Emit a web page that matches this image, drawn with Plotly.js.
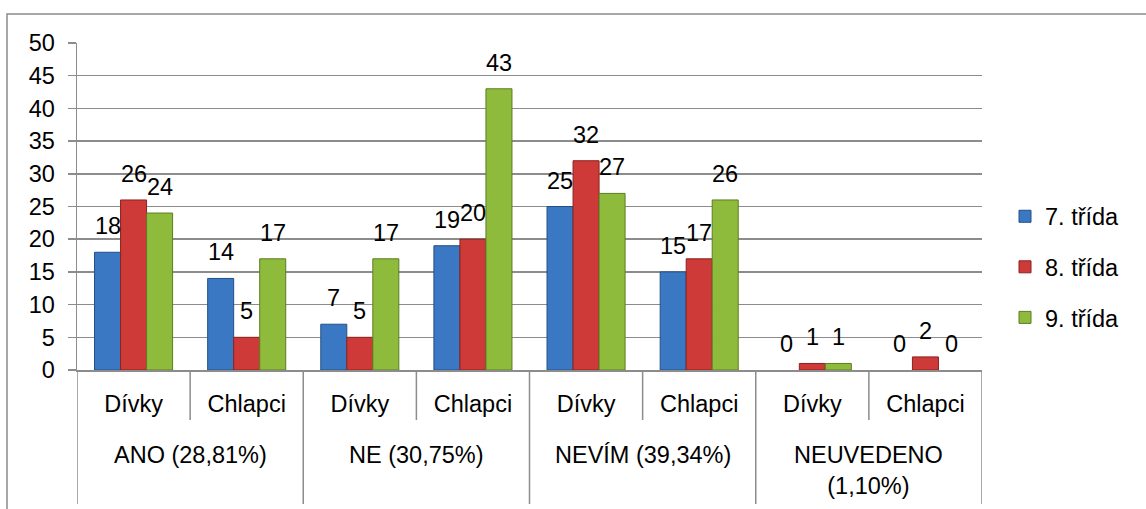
<!DOCTYPE html>
<html>
<head>
<meta charset="utf-8">
<script src="https://cdn.plot.ly/plotly-3.0.1.min.js"></script>
<style>html,body{margin:0;padding:0;background:#fff;}#chart{width:1146px;height:509px;}</style>
</head>
<body>
<div id="chart"></div>
<script>
// ---- data ----
const groups = ["ANO (28,81%)", "NE (30,75%)", "NEVÍM (39,34%)", "NEUVEDENO<br>(1,10%)"];
const subcats = ["Dívky", "Chlapci", "Dívky", "Chlapci", "Dívky", "Chlapci", "Dívky", "Chlapci"];
const seriesNames = ["7. třída", "8. třída", "9. třída"];
const trida7 = [18, 14, 7, 19, 25, 15, 0, 0];
const trida8 = [26, 5, 5, 20, 32, 17, 1, 2];
const trida9 = [24, 17, 17, 43, 27, 26, 1, 0];
const yTicks = [0, 5, 10, 15, 20, 25, 30, 35, 40, 45, 50];

// ---- styling ----
const FONT = "Liberation Sans, Arial, sans-serif";
const FS = 23.5;
const fills = ["#3b78c4", "#cd3a37", "#8fbb3c"];
const edges = ["#234f86", "#8a2320", "#5d7c22"];
const grid = "#8c8c8c";
const bargap = 0.31;
const bw = (1 - bargap) / 3;

const series = [trida7, trida8, trida9];
const xIdx = subcats.map((_, i) => i);

const traces = series.map((vals, k) => ({
  type: "bar",
  name: seriesNames[k],
  legendgroup: "g" + k,
  x: xIdx,
  y: vals,
  marker: {color: fills[k], line: {color: edges[k], width: vals.map(v => v ? 1 : 0)}},
  hoverinfo: "skip"
}));

const annotations = [];
// data labels
series.forEach((vals, k) => {
  vals.forEach((v, i) => {
    annotations.push({
      x: i + (k - 1) * bw, y: v, xref: "x", yref: "y",
      text: String(v), showarrow: false, yanchor: "middle", yshift: 26,
      font: {family: FONT, size: FS, color: "#000"}
    });
  });
});
// group labels
groups.forEach((g, j) => {
  annotations.push({
    x: 2 * j + 0.5, xref: "x", y: (370 - 440) / 327, yref: "paper",
    text: g, showarrow: false, yanchor: "top", align: "center",
    font: {family: FONT, size: FS, color: "#000"}
  });
});

const shapes = [];
// dividers
for (let i = 0; i <= subcats.length; i++) {
  const long = (i % 2 === 0);
  shapes.push({
    type: "line", xref: "x", yref: "paper",
    x0: i - 0.5, x1: i - 0.5, y0: 0, y1: long ? -(504 - 370) / 327 : -(420 - 370) / 327,
    line: {color: grid, width: 1.5}
  });
}
// outer border (left + top)
shapes.push({
  type: "rect", xref: "paper", yref: "paper",
  x0: (7 - 77) / 905, x1: (1160 - 77) / 905, y0: -(530 - 370) / 327, y1: (370 - 14) / 327,
  line: {color: "#8c8c8c", width: 1.5}
});

const layout = {
  width: 1146, height: 509,
  margin: {l: 77, r: 164, t: 43, b: 139},
  paper_bgcolor: "#fff", plot_bgcolor: "#fff",
  barmode: "group", bargap: bargap, bargroupgap: 0,
  showlegend: true,
  font: {family: FONT, size: FS, color: "#000"},
  xaxis: {
    range: [-0.5, subcats.length - 0.5],
    tickvals: xIdx, ticktext: subcats, ticks: "",
    ticklabelstandoff: 12,
    showgrid: false, zeroline: false, showline: true, linecolor: grid, linewidth: 1.5,
    tickfont: {family: FONT, size: FS, color: "#000"}, fixedrange: true
  },
  yaxis: {
    range: [0, 50], tickvals: yTicks, ticktext: yTicks.map(String),
    ticks: "outside", ticklen: 8, tickcolor: grid, tickwidth: 1.5,
    ticklabelstandoff: 8,
    showgrid: true, gridcolor: grid, gridwidth: 1.5,
    zeroline: false, showline: true, linecolor: grid, linewidth: 1.5,
    tickfont: {family: FONT, size: FS, color: "#000"}, fixedrange: true
  },
  legend: {
    x: (1005 - 77) / 905, xanchor: "left", y: (370 - 267) / 327, yanchor: "middle",
    font: {family: FONT, size: FS, color: "#000"},
    tracegroupgap: 17, itemwidth: 30, bgcolor: "rgba(0,0,0,0)"
  },
  annotations: annotations,
  shapes: shapes
};

Plotly.newPlot("chart", traces, layout, {staticPlot: true, displayModeBar: false});
</script>
</body>
</html>
